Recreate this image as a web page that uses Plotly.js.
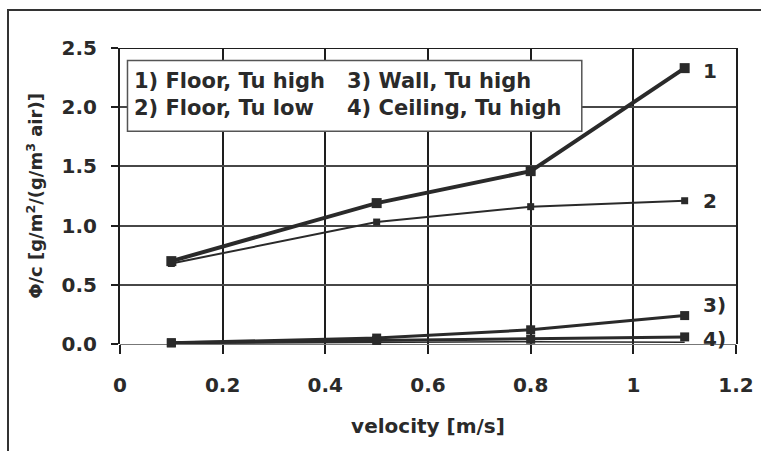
<!DOCTYPE html>
<html><head><meta charset="utf-8">
<script src="https://cdn.plot.ly/plotly-3.0.1.min.js"></script>
<style>
body{margin:0;background:#fff}
#wrap{position:relative;width:761px;height:451px;overflow:hidden}
#frame{position:absolute;left:7px;top:9px;right:-5px;bottom:-5px;border-left:2px solid #333;border-top:2px solid #333;pointer-events:none}
</style>
</head><body>
<div id="wrap"><div id="chart" style="width:761px;height:451px"></div><div id="frame"></div></div>
<script>
// ---- data ----
const velocity = [0.1, 0.5, 0.8, 1.1];
const floorHigh = [0.70, 1.19, 1.46, 2.33];     // 1)
const floorLow = [0.68, 1.03, 1.16, 1.21];      // 2)
const wallHigh = [0.01, 0.05, 0.12, 0.24];      // 3)
const ceilingHigh = [0.01, 0.03, 0.04, 0.06];   // 4)
const lowestLine = [0.005, 0.015, 0.02, 0.015]; // faint extra line at the bottom
const xTicks = [0, 0.2, 0.4, 0.6, 0.8, 1, 1.2];
const xTickText = ['0', '0.2', '0.4', '0.6', '0.8', '1', '1.2'];
const yTicks = [0, 0.5, 1.0, 1.5, 2.0, 2.5];
const yTickText = ['0.0', '0.5', '1.0', '1.5', '2.0', '2.5'];
const legendLeft = ['1) Floor, Tu high', '2) Floor, Tu low'];
const legendRight = ['3) Wall, Tu high', '4) Ceiling, Tu high'];
const seriesLabels = ['1', '2', '3)', '4)'];
const xTitle = 'velocity [m/s]';
const yTitle = 'Φ/c [g/m<sup>2</sup>/(g/m<sup>3</sup> air)]';

const FONT = 'DejaVu Sans, Arial, sans-serif';
const INK = '#2a2a2a';

function tr(y, w, msize, mode) {
  return {x: velocity, y: y, type: 'scatter', mode: mode || 'lines+markers',
    line: {color: INK, width: w}, marker: {symbol: 'square', size: msize, color: INK},
    cliponaxis: false, showlegend: false, hoverinfo: 'skip'};
}

const data = [
  tr(lowestLine, 1.5, 0, 'lines'),
  tr(ceilingHigh, 3, 9),
  tr(wallHigh, 3, 9),
  tr(floorLow, 2, 7),
  tr(floorHigh, 4, 10)
];

const lastVals = [floorHigh[3], floorLow[3], wallHigh[3], ceilingHigh[3]];
const labelShiftY = [-3, 0, 11, -2];
const annotations = seriesLabels.map((t, i) => ({
  x: velocity[3], y: lastVals[i], xref: 'x', yref: 'y', text: t, showarrow: false,
  xanchor: 'left', yanchor: 'middle', xshift: 16, yshift: labelShiftY[i],
  font: {family: FONT, size: 20, weight: 700, color: INK}
}));
annotations.push({
  x: 0.0238, y: 2.108, xref: 'x', yref: 'y', text: legendLeft.join('<br>'), showarrow: false,
  xanchor: 'left', yanchor: 'middle', align: 'left',
  font: {family: FONT, size: 21, weight: 700, color: INK}
});
annotations.push({
  x: 0.4376, y: 2.108, xref: 'x', yref: 'y', text: legendRight.join('<br>'), showarrow: false,
  xanchor: 'left', yanchor: 'middle', align: 'left',
  font: {family: FONT, size: 21, weight: 700, color: INK}
});

const layout = {
  width: 761, height: 451,
  margin: {l: 120, r: 25, t: 48, b: 107},
  paper_bgcolor: '#fff', plot_bgcolor: '#fff',
  font: {family: FONT, color: INK},
  showlegend: false,
  xaxis: {
    range: [0, 1.2], tickvals: xTicks, ticktext: xTickText,
    showgrid: true, gridcolor: '#1e1e1e', gridwidth: 2,
    zeroline: false, showline: false,
    ticks: 'outside', ticklen: 9, tickwidth: 2, tickcolor: '#1e1e1e',
    ticklabelstandoff: 14,
    tickfont: {family: FONT, size: 20, weight: 700, color: INK},
    title: {text: xTitle, standoff: 22, font: {family: FONT, size: 20, weight: 700, color: INK}}
  },
  yaxis: {
    range: [0, 2.5], tickvals: yTicks, ticktext: yTickText,
    showgrid: true, gridcolor: '#474747', gridwidth: 2,
    zeroline: true, zerolinecolor: '#777', zerolinewidth: 1,
    showline: true, linecolor: '#1e1e1e', linewidth: 2, mirror: true,
    ticks: 'outside', ticklen: 7, tickwidth: 2, tickcolor: '#1e1e1e',
    ticklabelstandoff: 10,
    tickfont: {family: FONT, size: 20, weight: 700, color: INK},
    title: {text: yTitle, standoff: 14, font: {family: FONT, size: 18, weight: 700, color: INK}}
  },
  shapes: [
    {type: 'line', xref: 'x', yref: 'y', x0: 0, x1: 1.2, y0: 2.5, y1: 2.5,
     line: {color: '#1e1e1e', width: 2}},
    {type: 'rect', xref: 'x', yref: 'y', x0: 0.0146, x1: 0.8996, y0: 1.796, y1: 2.395,
     fillcolor: '#fff', line: {color: '#555', width: 1.5}, layer: 'above'}
  ],
  annotations: annotations
};

Plotly.newPlot('chart', data, layout, {staticPlot: true, displayModeBar: false});
</script>
</body></html>
